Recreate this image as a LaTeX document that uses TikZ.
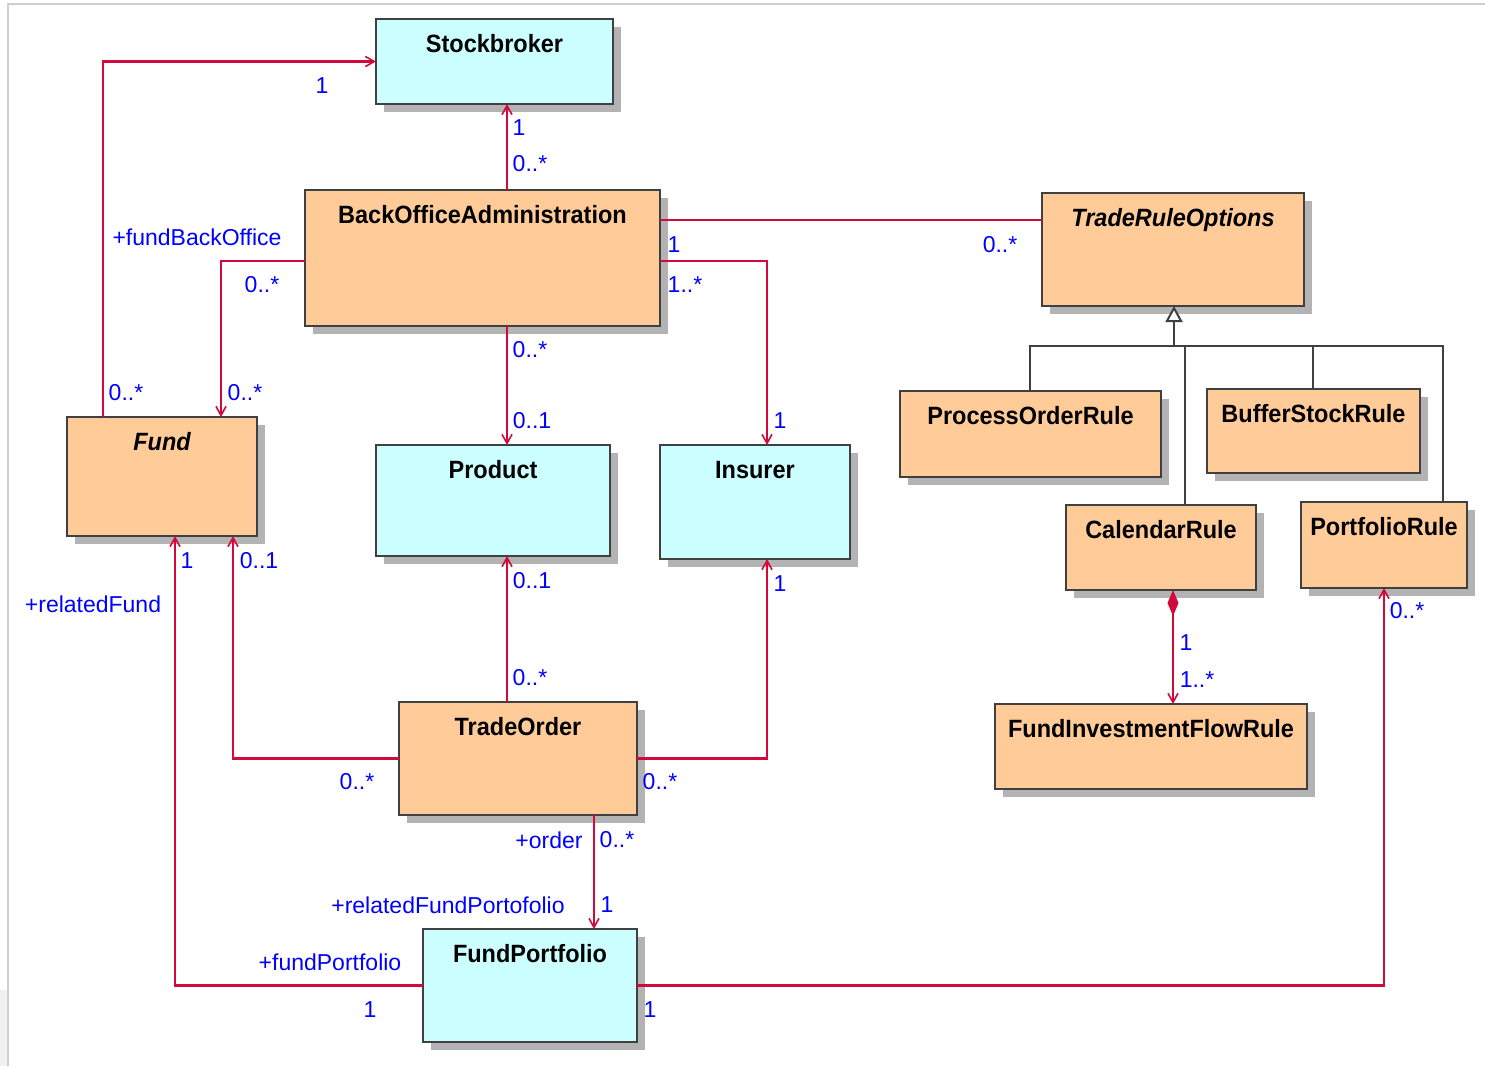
\documentclass[tikz,border=0pt]{standalone}
\usepackage{fontspec}
\setmainfont{Liberation Sans}
\newfontfamily\titlefont{Liberation Sans}[FakeStretch=0.94]
\usetikzlibrary{arrows.meta,shadows}
\definecolor{boxcyan}{HTML}{CCFFFF}
\definecolor{boxorange}{HTML}{FFCC99}
\definecolor{boxborder}{HTML}{404040}
\definecolor{boxshadow}{HTML}{B3B3B3}
\definecolor{assocred}{HTML}{D20A3C}
\definecolor{lblblue}{HTML}{0000FF}
\definecolor{framegray}{HTML}{CFCFCF}
\newcommand\umlbox[7]{%
  \node[umlbox, fill=#6, minimum width={#4-#2}, minimum height={#5-#3}] (#1) at ({(#2+#4)/2},{(#3+#5)/2}) {};
  \node[titletext] (#1-t) at ({(#2+#4)/2},{#3+33}) {#7};
}
\begin{document}
\begin{tikzpicture}[x=1pt,y=-1pt,
  umlbox/.style={draw=boxborder, line width=2.5pt, rectangle, inner sep=0pt, outer sep=0pt,
    drop shadow={shadow xshift=8pt, shadow yshift=-8pt, fill=boxshadow, opacity=1}},
  titletext/.style={font=\titlefont\bfseries\fontsize{25}{30}\selectfont, inner sep=0pt, anchor=base, text=black},
  lbl/.style={font=\fontsize{23}{27}\selectfont, text=lblblue, inner sep=0pt},
  assoc/.style={draw=assocred, line width=2.4pt},
  nav/.style={-{Straight Barb[length=9pt,width=10pt,line width=1.6pt]}},
  genline/.style={draw=boxborder, line width=2pt},
]
\useasboundingbox (0,0) rectangle (1485,1066);
\fill[white] (0,0) rectangle (1485,1066);
\fill[black!6] (0,990) rectangle (8,1066);
\draw[framegray, line width=1.5pt] (8,1066) -- (8,4) -- (1485,4);

% classes
\umlbox{stock}{376}{19}{613}{104}{boxcyan}{Stockbroker}
\umlbox{boa}{305}{190}{660}{326}{boxorange}{BackOfficeAdministration}
\umlbox{tro}{1042}{193}{1304}{306}{boxorange}{\itshape TradeRuleOptions}
\umlbox{fund}{67}{417}{257}{536}{boxorange}{\itshape Fund}
\umlbox{prod}{376}{445}{610}{556}{boxcyan}{Product}
\umlbox{ins}{660}{445}{850}{559}{boxcyan}{Insurer}
\umlbox{por}{900}{391}{1161}{477}{boxorange}{ProcessOrderRule}
\umlbox{bsr}{1207}{389}{1420}{473}{boxorange}{BufferStockRule}
\umlbox{cal}{1066}{505}{1256}{590}{boxorange}{CalendarRule}
\umlbox{pfr}{1301}{502}{1467}{588}{boxorange}{PortfolioRule}
\umlbox{fif}{995}{704}{1307}{789}{boxorange}{FundInvestmentFlowRule}
\umlbox{to}{399}{702}{637}{815}{boxorange}{TradeOrder}
\umlbox{fp}{423}{929}{637}{1042}{boxcyan}{FundPortfolio}

% helper coordinates
\coordinate (xA) at (103,0);
\coordinate (xB) at (221,0);
\coordinate (xC) at (507,0);
\coordinate (xD) at (767,0);
\coordinate (xE) at (233,0);
\coordinate (xF) at (175,0);
\coordinate (xG) at (594,0);
\coordinate (xH) at (1384,0);
\coordinate (xI) at (1173,0);
\coordinate (yA) at (0,261);
\coordinate (yT) at (0,220);
\coordinate (bus) at (0,346);
\coordinate (gK) at (1030,0);
\coordinate (gT) at (1174,0);
\coordinate (gC) at (1185,0);
\coordinate (gB) at (1313,0);
\coordinate (gL) at (1443,0);

% associations
\draw[assoc,nav] (xA |- fund.north) |- (stock.west);
\draw[assoc,nav] (xC |- boa.north) -- (xC |- stock.south);
\draw[assoc,nav] (boa.west |- yA) -| (xB |- fund.north);
\draw[assoc] (boa.east |- yT) -- (tro.west |- yT);
\draw[assoc,nav] (boa.east |- yA) -| (xD |- ins.north);
\draw[assoc,nav] (xC |- boa.south) -- (xC |- prod.north);
\draw[assoc,nav] (xC |- to.north) -- (xC |- prod.south);
\draw[assoc,nav] (to.west) -| (xE |- fund.south);
\draw[assoc,nav] (to.east) -| (xD |- ins.south);
\draw[assoc,nav] (xG |- to.south) -- (xG |- fp.north);
\draw[assoc,nav] (fp.west) -| (xF |- fund.south);
\draw[assoc,nav] (fp.east) -| (xH |- pfr.south);
\draw[assoc,{Diamond[length=26pt,width=11pt,fill=assocred]}-{Straight Barb[length=9pt,width=10pt,line width=1.6pt]}] (xI |- cal.south) -- (xI |- fif.north);

% generalization
\draw[genline,{Triangle[open,length=16pt,width=17pt,fill=white,line width=2pt]}-] (gT |- tro.south) -- (gT |- bus);
\draw[genline] (gK |- por.north) |- (gL |- bus) -- (gL |- pfr.north);
\draw[genline] (gC |- bus) -- (gC |- cal.north);
\draw[genline] (gB |- bus) -- (gB |- bsr.north);

% labels
\node[lbl] (l1) at (322,86) {1};
\node[lbl] (l2) at (197,237) {+fundBackOffice};
\node[lbl] (l3) at (126,393) {0..*};
\node[lbl] (l4) at (245,393) {0..*};
\node[lbl] (l5) at (262,285) {0..*};
\node[lbl] (l6) at (519,128) {1};
\node[lbl] (l7) at (530,164) {0..*};
\node[lbl] (l8) at (674,245) {1};
\node[lbl] (l9) at (685,285) {1..*};
\node[lbl] (l10) at (1000,245) {0..*};
\node[lbl] (l11) at (530,350) {0..*};
\node[lbl] (l12) at (532,421) {0..1};
\node[lbl] (l13) at (780,421) {1};
\node[lbl] (l14) at (187,561) {1};
\node[lbl] (l15) at (259,561) {0..1};
\node[lbl] (l16) at (93,604) {+relatedFund};
\node[lbl] (l17) at (532,581) {0..1};
\node[lbl] (l18) at (780,584) {1};
\node[lbl] (l19) at (530,678) {0..*};
\node[lbl] (l20) at (357,782) {0..*};
\node[lbl] (l21) at (660,782) {0..*};
\node[lbl] (l22) at (549,840) {+order};
\node[lbl] (l23) at (617,840) {0..*};
\node[lbl] (l24) at (448,905) {+relatedFundPortofolio};
\node[lbl] (l25) at (607,905) {1};
\node[lbl] (l26) at (330,962) {+fundPortfolio};
\node[lbl] (l27) at (370,1010) {1};
\node[lbl] (l28) at (650,1010) {1};
\node[lbl] (l29) at (1407,611) {0..*};
\node[lbl] (l30) at (1186,643) {1};
\node[lbl] (l31) at (1197,680) {1..*};
\end{tikzpicture}
\end{document}
